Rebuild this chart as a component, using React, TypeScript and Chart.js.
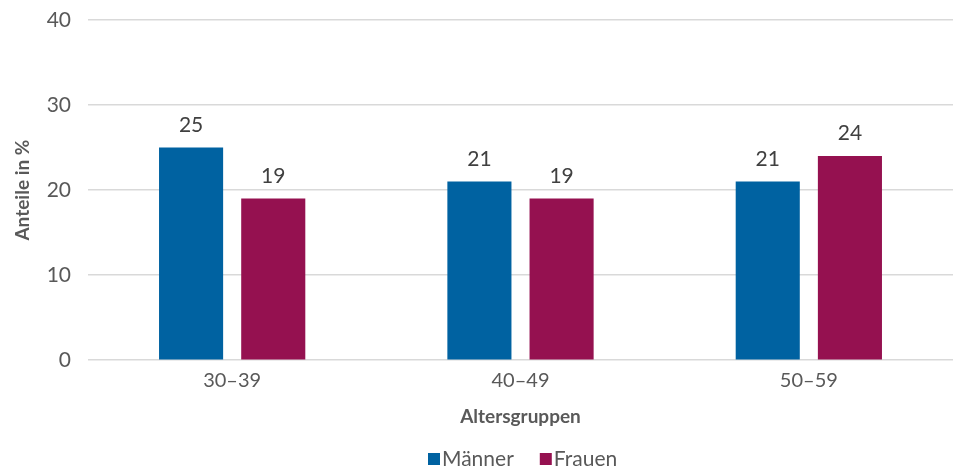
import React, { useEffect, useRef } from "react";
import { Chart, registerables } from "chart.js";

Chart.register(...registerables);

const categories = ["30–39", "40–49", "50–59"];
const maenner = [25, 21, 21];
const frauen = [19, 19, 24];
const seriesNames = ["Männer", "Frauen"];
const seriesColors = ["#0062A1", "#951150"];
const yTicks = [0, 10, 20, 30, 40];

const FONT = "Lato, 'Open Sans', sans-serif";

const dataLabelPlugin = {
  id: "dataLabels",
  afterDatasetsDraw(chart: any) {
    const ctx = chart.ctx;
    ctx.save();
    ctx.font = `21px ${FONT}`;
    ctx.fillStyle = "#404040";
    ctx.textAlign = "center";
    ctx.textBaseline = "bottom";
    chart.data.datasets.forEach((ds: any, i: number) => {
      const meta = chart.getDatasetMeta(i);
      meta.data.forEach((bar: any, j: number) => {
        ctx.fillText(String(ds.data[j]), bar.x, bar.y - 12);
      });
    });
    ctx.restore();
  },
};

const legendPlugin = {
  id: "customLegend",
  afterDraw(chart: any) {
    const ctx = chart.ctx;
    ctx.save();
    ctx.font = `21px ${FONT}`;
    ctx.textBaseline = "middle";
    ctx.textAlign = "left";
    const y = 459;
    let x = 428;
    chart.data.datasets.forEach((ds: any) => {
      ctx.fillStyle = ds.backgroundColor;
      ctx.fillRect(x, y - 6, 12, 12);
      ctx.fillStyle = "#595959";
      ctx.fillText(ds.label, x + 14, y);
      x += 14 + ctx.measureText(ds.label).width + 26;
    });
    ctx.restore();
  },
};

export default function App() {
  const ref = useRef<HTMLCanvasElement>(null);
  useEffect(() => {
    document.body.style.margin = "0";
    const chart = new Chart(ref.current!, {
      type: "bar",
      data: {
        labels: categories,
        datasets: [
          { label: seriesNames[0], data: maenner, backgroundColor: seriesColors[0], borderWidth: 0 },
          { label: seriesNames[1], data: frauen, backgroundColor: seriesColors[1], borderWidth: 0 },
        ],
      },
      options: {
        animation: false,
        responsive: false,
        maintainAspectRatio: false,
        layout: { padding: { top: 20, right: 0, left: 0, bottom: 43 } },
        datasets: { bar: { categoryPercentage: 0.57, barPercentage: 0.78 } } as any,
        plugins: {
          legend: { display: false },
          tooltip: { enabled: false },
        },
        scales: {
          x: {
            grid: { display: false, drawTicks: false },
            border: { display: false },
            ticks: { font: { family: FONT, size: 20 }, color: "#595959", padding: 8 },
            title: {
              display: true,
              text: "Altersgruppen",
              font: { family: FONT, size: 19, weight: "bold" },
              color: "#595959",
              padding: { top: 5, bottom: 0 },
            },
          },
          y: {
            min: yTicks[0],
            max: yTicks[yTicks.length - 1],
            afterBuildTicks: (axis: any) => {
              axis.ticks = yTicks.map((v) => ({ value: v }));
            },
            afterFit: (axis: any) => {
              axis.width = 88;
              axis.paddingTop = 0;
              axis.paddingBottom = 0;
            },
            grid: { color: "#d9d9d9", lineWidth: 1.5, drawTicks: false },
            border: { display: false },
            ticks: { font: { family: FONT, size: 21 }, color: "#595959", padding: 17 },
            title: {
              display: true,
              text: "Anteile in %",
              font: { family: FONT, size: 19, weight: "bold" },
              color: "#595959",
              padding: { top: 11, bottom: 0 },
            },
          },
        },
      },
      plugins: [dataLabelPlugin, legendPlugin],
    });
    return () => chart.destroy();
  }, []);
  return (
    <div style={{ width: 953, height: 471 }}>
      <canvas ref={ref} width={953} height={471} style={{ display: "block" }} />
    </div>
  );
}
